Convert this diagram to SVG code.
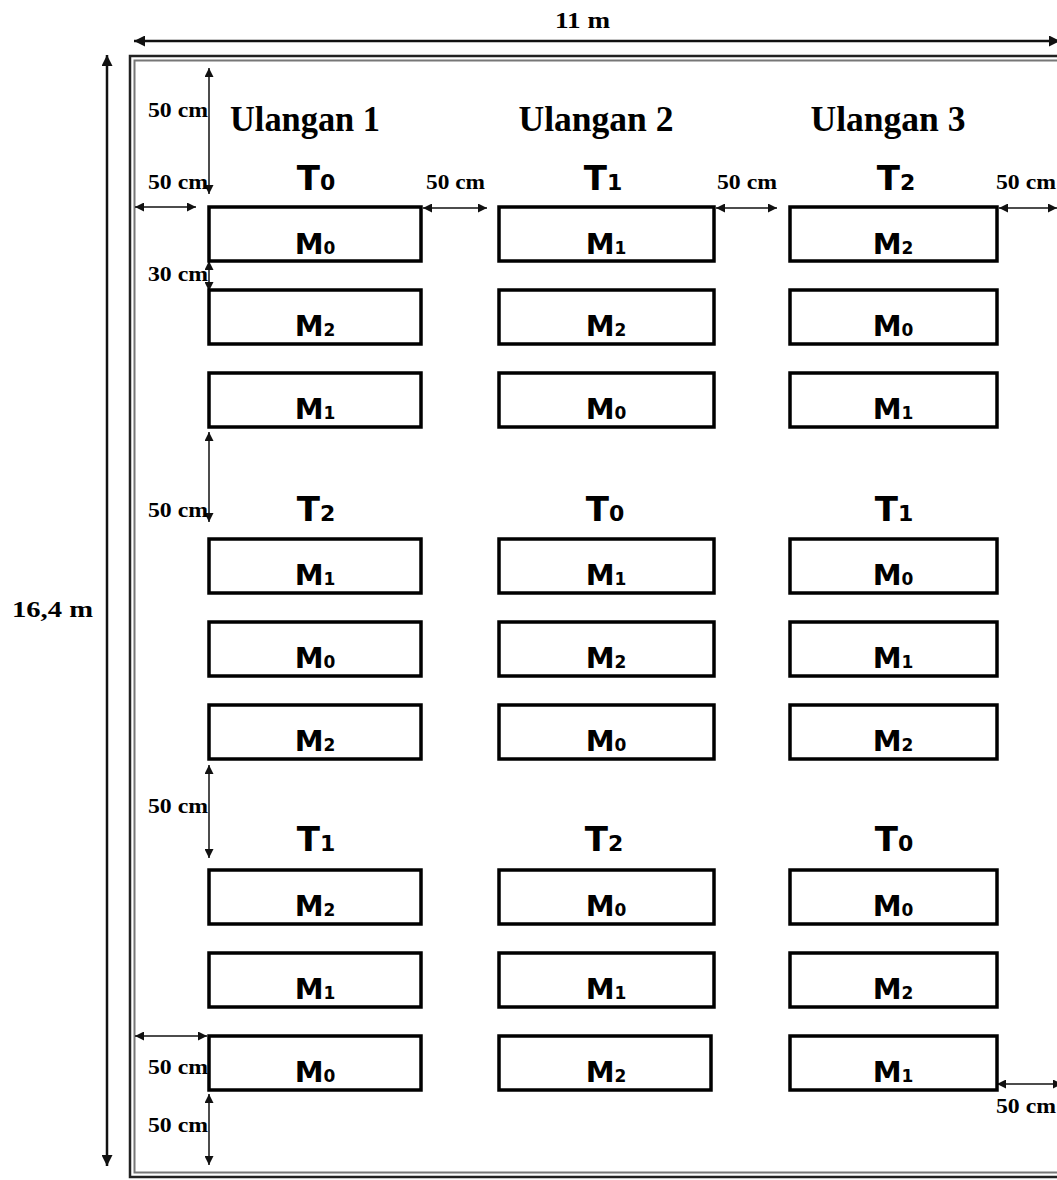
<svg xmlns="http://www.w3.org/2000/svg" width="1057" height="1180" viewBox="0 0 1057 1180">
<defs>
<marker id="ah" viewBox="0 0 10 10" refX="10" refY="5" markerWidth="10" markerHeight="9" markerUnits="userSpaceOnUse" orient="auto-start-reverse"><path d="M0,0 L10,5 L0,10 z" fill="#111"/></marker>
<marker id="ahb" viewBox="0 0 10 10" refX="10" refY="5" markerWidth="12" markerHeight="11" markerUnits="userSpaceOnUse" orient="auto-start-reverse"><path d="M0,0 L10,5 L0,10 z" fill="#111"/></marker>
<style>
.plot{fill:#fff;stroke:#000;stroke-width:3.5}
.dim{stroke:#111;stroke-width:1.5;fill:none;marker-start:url(#ah);marker-end:url(#ah)}
.big{stroke:#111;stroke-width:2.5;fill:none;marker-start:url(#ahb);marker-end:url(#ahb)}
.cm{font-family:"Liberation Serif",serif;font-weight:bold;font-size:21px;fill:#000}
.ul{font-family:"Liberation Serif",serif;font-weight:bold;font-size:35px;fill:#000;text-anchor:middle}
.t{font-family:"DejaVu Sans",sans-serif;font-weight:bold;font-size:34px;fill:#000;text-anchor:middle}
.m{font-family:"DejaVu Sans",sans-serif;font-weight:bold;font-size:29px;fill:#000;text-anchor:middle}
.ts{font-size:22px}
.ms{font-size:17px}
.dm{font-family:"Liberation Serif",serif;font-weight:bold;font-size:24px;fill:#000}
</style>
</defs>
<rect width="1057" height="1180" fill="#fff"/>
<g id="border">
<rect x="130" y="56" width="960" height="1121" fill="none" stroke="#222" stroke-width="2.5"/>
<rect x="134.5" y="60.5" width="950" height="1112" fill="none" stroke="#777" stroke-width="2"/>
</g>
<g id="connectors">
<line class="big" x1="134" y1="41" x2="1060" y2="41"/>
<line class="big" x1="107" y1="55" x2="107" y2="1166"/>
<line class="dim" x1="209" y1="68" x2="209" y2="194"/>
<line class="dim" x1="135" y1="207" x2="196" y2="207"/>
<line class="dim" x1="423" y1="208" x2="487" y2="208"/>
<line class="dim" x1="716" y1="208" x2="777" y2="208"/>
<line class="dim" x1="999" y1="208" x2="1057" y2="208"/>
<line class="dim" x1="209" y1="261" x2="209" y2="291"/>
<line class="dim" x1="209" y1="432" x2="209" y2="522"/>
<line class="dim" x1="209" y1="765" x2="209" y2="858"/>
<line class="dim" x1="135" y1="1036" x2="207" y2="1036"/>
<line class="dim" x1="209" y1="1094" x2="209" y2="1165"/>
<line class="dim" x1="997" y1="1084" x2="1062" y2="1084"/>
</g>
<g id="dimension-labels">
<text class="dm" x="555" y="28" textLength="55" lengthAdjust="spacingAndGlyphs">11 m</text>
<text class="dm" x="12" y="617" textLength="81" lengthAdjust="spacingAndGlyphs">16,4 m</text>
<text class="cm" x="148" y="117" textLength="60" lengthAdjust="spacingAndGlyphs">50 cm</text>
<text class="cm" x="148" y="189" textLength="60" lengthAdjust="spacingAndGlyphs">50 cm</text>
<text class="cm" x="426" y="189" textLength="59" lengthAdjust="spacingAndGlyphs">50 cm</text>
<text class="cm" x="717" y="189" textLength="60" lengthAdjust="spacingAndGlyphs">50 cm</text>
<text class="cm" x="996" y="189" textLength="60" lengthAdjust="spacingAndGlyphs">50 cm</text>
<text class="cm" x="148" y="281" textLength="60" lengthAdjust="spacingAndGlyphs">30 cm</text>
<text class="cm" x="148" y="517" textLength="60" lengthAdjust="spacingAndGlyphs">50 cm</text>
<text class="cm" x="148" y="813" textLength="60" lengthAdjust="spacingAndGlyphs">50 cm</text>
<text class="cm" x="148" y="1074" textLength="60" lengthAdjust="spacingAndGlyphs">50 cm</text>
<text class="cm" x="148" y="1132" textLength="60" lengthAdjust="spacingAndGlyphs">50 cm</text>
<text class="cm" x="996" y="1113" textLength="60" lengthAdjust="spacingAndGlyphs">50 cm</text>
</g>
<g id="headers">
<text class="ul" x="305" y="131" textLength="150" lengthAdjust="spacingAndGlyphs">Ulangan 1</text>
<text class="ul" x="596" y="131" textLength="155" lengthAdjust="spacingAndGlyphs">Ulangan 2</text>
<text class="ul" x="888" y="131" textLength="155" lengthAdjust="spacingAndGlyphs">Ulangan 3</text>
</g>
<g id="treatments">
<text class="t" x="316" y="190">T<tspan class="ts">0</tspan></text>
<text class="t" x="603" y="190">T<tspan class="ts">1</tspan></text>
<text class="t" x="896" y="190">T<tspan class="ts">2</tspan></text>
<text class="t" x="316" y="521">T<tspan class="ts">2</tspan></text>
<text class="t" x="605" y="521">T<tspan class="ts">0</tspan></text>
<text class="t" x="894" y="521">T<tspan class="ts">1</tspan></text>
<text class="t" x="316" y="851">T<tspan class="ts">1</tspan></text>
<text class="t" x="604" y="851">T<tspan class="ts">2</tspan></text>
<text class="t" x="894" y="851">T<tspan class="ts">0</tspan></text>
</g>
<g id="plots-r1-c1"><rect class="plot" x="209" y="207" width="212" height="54"/><text class="m" x="315" y="254">M<tspan class="ms">0</tspan></text></g>
<g id="plots-r2-c1"><rect class="plot" x="209" y="290" width="212" height="54"/><text class="m" x="315" y="336">M<tspan class="ms">2</tspan></text></g>
<g id="plots-r3-c1"><rect class="plot" x="209" y="373" width="212" height="54"/><text class="m" x="315" y="419">M<tspan class="ms">1</tspan></text></g>
<g id="plots-r1-c2"><rect class="plot" x="499" y="207" width="215" height="54"/><text class="m" x="606" y="254">M<tspan class="ms">1</tspan></text></g>
<g id="plots-r2-c2"><rect class="plot" x="499" y="290" width="215" height="54"/><text class="m" x="606" y="336">M<tspan class="ms">2</tspan></text></g>
<g id="plots-r3-c2"><rect class="plot" x="499" y="373" width="215" height="54"/><text class="m" x="606" y="419">M<tspan class="ms">0</tspan></text></g>
<g id="plots-r1-c3"><rect class="plot" x="790" y="207" width="207" height="54"/><text class="m" x="893" y="254">M<tspan class="ms">2</tspan></text></g>
<g id="plots-r2-c3"><rect class="plot" x="790" y="290" width="207" height="54"/><text class="m" x="893" y="336">M<tspan class="ms">0</tspan></text></g>
<g id="plots-r3-c3"><rect class="plot" x="790" y="373" width="207" height="54"/><text class="m" x="893" y="419">M<tspan class="ms">1</tspan></text></g>
<g id="plots-r4-c1"><rect class="plot" x="209" y="539" width="212" height="54"/><text class="m" x="315" y="585">M<tspan class="ms">1</tspan></text></g>
<g id="plots-r5-c1"><rect class="plot" x="209" y="622" width="212" height="54"/><text class="m" x="315" y="668">M<tspan class="ms">0</tspan></text></g>
<g id="plots-r6-c1"><rect class="plot" x="209" y="705" width="212" height="54"/><text class="m" x="315" y="751">M<tspan class="ms">2</tspan></text></g>
<g id="plots-r4-c2"><rect class="plot" x="499" y="539" width="215" height="54"/><text class="m" x="606" y="585">M<tspan class="ms">1</tspan></text></g>
<g id="plots-r5-c2"><rect class="plot" x="499" y="622" width="215" height="54"/><text class="m" x="606" y="668">M<tspan class="ms">2</tspan></text></g>
<g id="plots-r6-c2"><rect class="plot" x="499" y="705" width="215" height="54"/><text class="m" x="606" y="751">M<tspan class="ms">0</tspan></text></g>
<g id="plots-r4-c3"><rect class="plot" x="790" y="539" width="207" height="54"/><text class="m" x="893" y="585">M<tspan class="ms">0</tspan></text></g>
<g id="plots-r5-c3"><rect class="plot" x="790" y="622" width="207" height="54"/><text class="m" x="893" y="668">M<tspan class="ms">1</tspan></text></g>
<g id="plots-r6-c3"><rect class="plot" x="790" y="705" width="207" height="54"/><text class="m" x="893" y="751">M<tspan class="ms">2</tspan></text></g>
<g id="plots-r7-c1"><rect class="plot" x="209" y="870" width="212" height="54"/><text class="m" x="315" y="916">M<tspan class="ms">2</tspan></text></g>
<g id="plots-r8-c1"><rect class="plot" x="209" y="953" width="212" height="54"/><text class="m" x="315" y="999">M<tspan class="ms">1</tspan></text></g>
<g id="plots-r9-c1"><rect class="plot" x="209" y="1036" width="212" height="54"/><text class="m" x="315" y="1082">M<tspan class="ms">0</tspan></text></g>
<g id="plots-r7-c2"><rect class="plot" x="499" y="870" width="215" height="54"/><text class="m" x="606" y="916">M<tspan class="ms">0</tspan></text></g>
<g id="plots-r8-c2"><rect class="plot" x="499" y="953" width="215" height="54"/><text class="m" x="606" y="999">M<tspan class="ms">1</tspan></text></g>
<g id="plots-r9-c2"><rect class="plot" x="499" y="1036" width="212" height="54"/><text class="m" x="606" y="1082">M<tspan class="ms">2</tspan></text></g>
<g id="plots-r7-c3"><rect class="plot" x="790" y="870" width="207" height="54"/><text class="m" x="893" y="916">M<tspan class="ms">0</tspan></text></g>
<g id="plots-r8-c3"><rect class="plot" x="790" y="953" width="207" height="54"/><text class="m" x="893" y="999">M<tspan class="ms">2</tspan></text></g>
<g id="plots-r9-c3"><rect class="plot" x="790" y="1036" width="207" height="54"/><text class="m" x="893" y="1082">M<tspan class="ms">1</tspan></text></g>
</svg>
